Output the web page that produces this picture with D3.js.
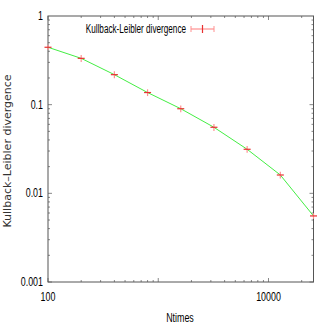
<!DOCTYPE html>
<html><head><meta charset="utf-8">
<script src="https://cdn.jsdelivr.net/npm/d3@7"></script>
<style>
body{margin:0;background:#fff;}
svg{display:block;}
.narrow{font-family:"Liberation Sans",Arial,sans-serif;}
</style></head>
<body><svg id="c" width="327" height="327"></svg>
<script>
const ntimes = [100, 200, 400, 800, 1600, 3200, 6400, 12800, 25600];
const klDiv = [0.444, 0.333, 0.218, 0.137, 0.090, 0.0556, 0.0314, 0.0161, 0.00556];
const klErr = [0.03, 0.03, 0.02, 0.012, 0.008, 0.005, 0.0028, 0.0014, 0.0004];
const xTicks = [100, 1000, 10000];
const xTickLabels = ["100", "", "10000"];
const yTicks = [0.001, 0.01, 0.1, 1];
const yTickLabels = ["0.001", "0.01", "0.1", "1"];
const seriesName = "Kullback-Leibler divergence";
const xTitle = "Ntimes";
const yTitle = "Kullback–Leibler divergence";

const L = 48, R = 313.5, T = 16, B = 282;
const svg = d3.select("#c");
const x = d3.scaleLog().domain([100, 25600]).range([L, R]);
const y = d3.scaleLog().domain([0.001, 1]).range([B, T]);
const axisCol = "#555";

function narrowText(sel, str, size, factor) {
  sel.attr("class", "narrow").attr("font-size", size).text(str);
  const w = sel.node().getComputedTextLength();
  if (w > 0) sel.attr("textLength", w * factor).attr("lengthAdjust", "spacingAndGlyphs");
  return sel;
}

// minor ticks
const xMinor = [];
for (let d = 100; d <= 10000; d *= 10) for (let k = 1; k < 10; k++) { const v = d * k; if (v <= 25600) xMinor.push(v); }
const yMinor = [];
for (let d = 0.001; d < 1; d *= 10) for (let k = 1; k < 10; k++) yMinor.push(d * k);

const g = svg.append("g");
function tickLen(v) { const l = Math.log10(v); return Math.abs(l - Math.round(l)) < 1e-6 ? 4 : 2; }
xMinor.forEach(v => {
  const len = tickLen(v);
  g.append("line").attr("x1", x(v)).attr("x2", x(v)).attr("y1", B).attr("y2", B - len).attr("stroke", "#888");
  g.append("line").attr("x1", x(v)).attr("x2", x(v)).attr("y1", T).attr("y2", T + len).attr("stroke", "#888");
});
yMinor.forEach(v => {
  const len = tickLen(v);
  g.append("line").attr("x1", L).attr("x2", L + len).attr("y1", y(v)).attr("y2", y(v)).attr("stroke", "#888");
  g.append("line").attr("x1", R).attr("x2", R - len).attr("y1", y(v)).attr("y2", y(v)).attr("stroke", "#888");
});
g.append("rect").attr("x", L).attr("y", T).attr("width", R - L).attr("height", B - T)
  .attr("fill", "none").attr("stroke", axisCol).attr("stroke-width", 1);

// tick labels
xTicks.forEach((v, i) => {
  if (!xTickLabels[i]) return;
  narrowText(g.append("text").attr("x", x(v)).attr("y", B + 19).attr("text-anchor", "middle").attr("fill", "#000"), xTickLabels[i], 12, 0.74);
});
yTicks.forEach((v, i) => {
  narrowText(g.append("text").attr("x", L - 5).attr("y", y(v) + 4).attr("text-anchor", "end").attr("fill", "#000"), yTickLabels[i], 12, 0.74);
});
// titles
narrowText(svg.append("text").attr("x", 180).attr("y", 322).attr("text-anchor", "middle"), xTitle, 12, 0.74);
svg.append("text").attr("transform", `translate(11,${(T + B) / 2 + 2}) rotate(-90)`).attr("text-anchor", "middle")
  .attr("font-family", "DejaVu Sans, sans-serif").attr("font-size", 11).attr("fill", "#333").text(yTitle);

// line
const pts = ntimes.map((n, i) => [n, klDiv[i]]);
svg.append("path").datum(pts).attr("fill", "none").attr("stroke", "#44ee44").attr("stroke-width", 1)
  .attr("d", d3.line().x(d => x(d[0])).y(d => y(d[1])));

// error bars and points
ntimes.forEach((n, i) => {
  const cx = x(n), cy = y(klDiv[i]);
  svg.append("line").attr("x1", cx).attr("x2", cx).attr("y1", y(klDiv[i] + klErr[i])).attr("y2", y(klDiv[i] - klErr[i]))
    .attr("stroke", "#ff9090").attr("stroke-width", 1.2);
  svg.append("line").attr("x1", cx - 3.5).attr("x2", cx + 3.5).attr("y1", cy).attr("y2", cy)
    .attr("stroke", "#e83030").attr("stroke-width", 1.2);
});

// legend
const ly = 29, lx1 = 191, lx2 = 214;
narrowText(svg.append("text").attr("x", 186).attr("y", ly + 4).attr("text-anchor", "end"), seriesName, 12, 0.68);
svg.append("line").attr("x1", lx1).attr("x2", lx2).attr("y1", ly).attr("y2", ly).attr("stroke", "#ff9090").attr("stroke-width", 1.2);
[lx1, lx2].forEach(xx => svg.append("line").attr("x1", xx).attr("x2", xx).attr("y1", ly - 3).attr("y2", ly + 3).attr("stroke", "#ff9090"));
svg.append("line").attr("x1", (lx1 + lx2) / 2).attr("x2", (lx1 + lx2) / 2).attr("y1", ly - 4).attr("y2", ly + 4).attr("stroke", "#e83030").attr("stroke-width", 1.2);
</script></body></html>
